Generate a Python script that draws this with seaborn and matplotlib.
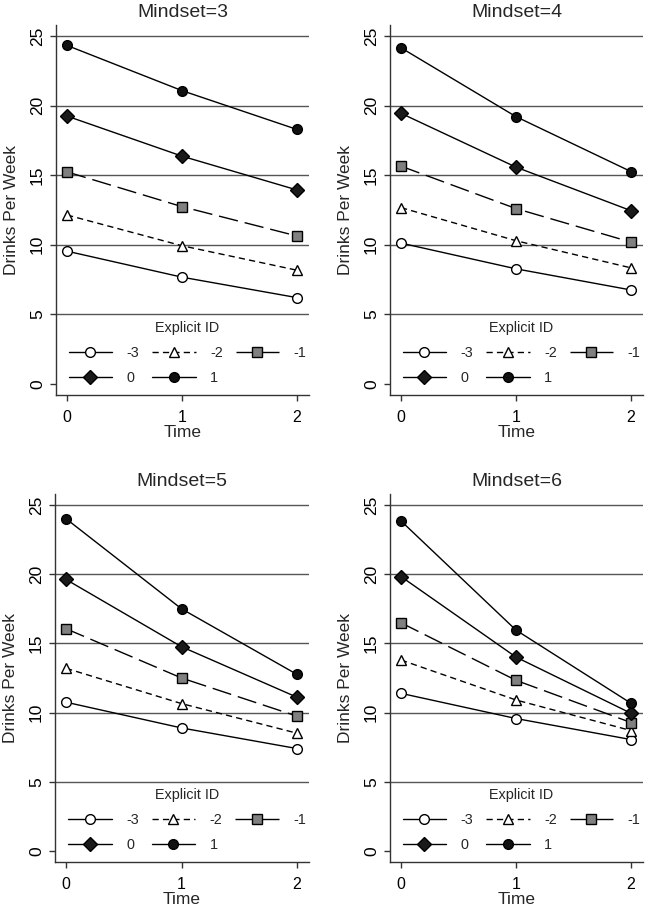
import numpy as np
import pandas as pd
import matplotlib
matplotlib.use("Agg")
import matplotlib.pyplot as plt
import seaborn as sns

sns.set_style("white")
plt.rcParams["font.family"] = ["Liberation Sans", "DejaVu Sans"]

# ---- data ----
times = [0, 1, 2]
mindsets = [3, 4, 5, 6]
explicit_ids = [-3, -2, -1, 0, 1]

m3_n3 = [9.54, 7.67, 6.20]
m3_n2 = [12.14, 9.93, 8.17]
m3_n1 = [15.24, 12.74, 10.63]
m3_z0 = [19.25, 16.37, 13.94]
m3_p1 = [24.33, 21.08, 18.29]

m4_n3 = [10.12, 8.27, 6.75]
m4_n2 = [12.67, 10.29, 8.34]
m4_n1 = [15.65, 12.60, 10.19]
m4_z0 = [19.45, 15.58, 12.45]
m4_p1 = [24.16, 19.21, 15.26]

m5_n3 = [10.75, 8.89, 7.40]
m5_n2 = [13.20, 10.65, 8.51]
m5_n1 = [16.06, 12.50, 9.74]
m5_z0 = [19.62, 14.76, 11.11]
m5_p1 = [24.01, 17.50, 12.76]

m6_n3 = [11.39, 9.57, 8.05]
m6_n2 = [13.80, 10.91, 8.70]
m6_n1 = [16.49, 12.33, 9.28]
m6_z0 = [19.83, 14.01, 9.95]
m6_p1 = [23.85, 15.96, 10.67]

series = {
    3: [m3_n3, m3_n2, m3_n1, m3_z0, m3_p1],
    4: [m4_n3, m4_n2, m4_n1, m4_z0, m4_p1],
    5: [m5_n3, m5_n2, m5_n1, m5_z0, m5_p1],
    6: [m6_n3, m6_n2, m6_n1, m6_z0, m6_p1],
}

rows = []
for m in mindsets:
    for eid, vals in zip(explicit_ids, series[m]):
        for t, v in zip(times, vals):
            rows.append({"Mindset": m, "ExplicitID": eid, "Time": t, "Drinks": v})
df = pd.DataFrame(rows)

# ---- styles ----
styles = {
    -3: dict(marker="o", markerfacecolor="white", linestyle="-", markersize=7),
    -2: dict(marker="^", markerfacecolor="white", linestyle=(0, (4.5, 3)), markersize=7),
    -1: dict(marker="s", markerfacecolor="#808080", linestyle=(0, (14, 5)), markersize=6.5),
    0: dict(marker="D", markerfacecolor="#1a1a1a", linestyle="-", markersize=7),
    1: dict(marker="o", markerfacecolor="#111111", linestyle="-", markersize=7),
}

fig = plt.figure(figsize=(6.46, 9.08), dpi=100)
W, H = 646, 908
boxes = {
    3: (56, 25, 309, 395),
    4: (390, 25, 643, 395),
    5: (55, 494, 309, 862),
    6: (390, 494, 643, 862),
}

axis_col = "#333333"
for m in mindsets:
    x0, y0, x1, y1 = boxes[m]
    ax = fig.add_axes([x0 / W, 1 - y1 / H, (x1 - x0) / W, (y1 - y0) / H])
    sub = df[df["Mindset"] == m]
    handles = {}
    for eid in explicit_ids:
        d = sub[sub["ExplicitID"] == eid]
        st = styles[eid]
        sns.lineplot(data=d, x="Time", y="Drinks", ax=ax, color="black",
                     linewidth=1.0, marker=st["marker"], markersize=st["markersize"],
                     markerfacecolor=st["markerfacecolor"], markeredgecolor="black",
                     markeredgewidth=1.0, linestyle=st["linestyle"],
                     label=str(eid), errorbar=None, zorder=3)
    lines = ax.get_lines()
    for ln, eid in zip(lines, explicit_ids):
        handles[eid] = ln
    if ax.get_legend():
        ax.get_legend().remove()

    ax.set_xlim(-0.096, 2.104)
    ax.set_ylim(-0.8, 25.8)
    ax.set_xticks(times)
    ax.set_xticklabels([str(t) for t in times])
    ax.set_yticks([0, 5, 10, 15, 20, 25])
    ax.set_yticklabels(["0", "5", "10", "15", "20", "25"], rotation=90, va="center")
    for yv in [5, 10, 15, 20, 25]:
        ax.axhline(yv, color="#555555", linewidth=1.0, zorder=1)
    ax.spines["top"].set_visible(False)
    ax.spines["right"].set_visible(False)
    for s in ["left", "bottom"]:
        ax.spines[s].set_color(axis_col)
        ax.spines[s].set_linewidth(1.0)
    ax.tick_params(axis="both", direction="out", length=4.5, width=1.0, color=axis_col,
                   labelcolor="black", bottom=True, left=True)
    ax.tick_params(axis="y", labelsize=12.5, pad=3.5)
    ax.tick_params(axis="x", labelsize=11.5, pad=6)
    ax.set_xlabel("Time", fontsize=12.5, labelpad=0.5)
    ax.set_ylabel("Drinks Per Week", fontsize=12.5, labelpad=7.5)
    ax.set_title(f"Mindset={m}", fontsize=14, pad=6)

    order = [-3, 0, -2, 1, -1]
    leg = ax.legend([handles[e] for e in order], [str(e) for e in order],
                    ncol=3, title="Explicit ID", frameon=False, loc="lower center",
                    bbox_to_anchor=(0.52, 0.0), fontsize=10.4, title_fontsize=10.4,
                    handlelength=3.0, handletextpad=1.0, columnspacing=0.9,
                    labelspacing=0.75, borderaxespad=0.3)

fig.savefig("out.png", dpi=100, facecolor="white")
